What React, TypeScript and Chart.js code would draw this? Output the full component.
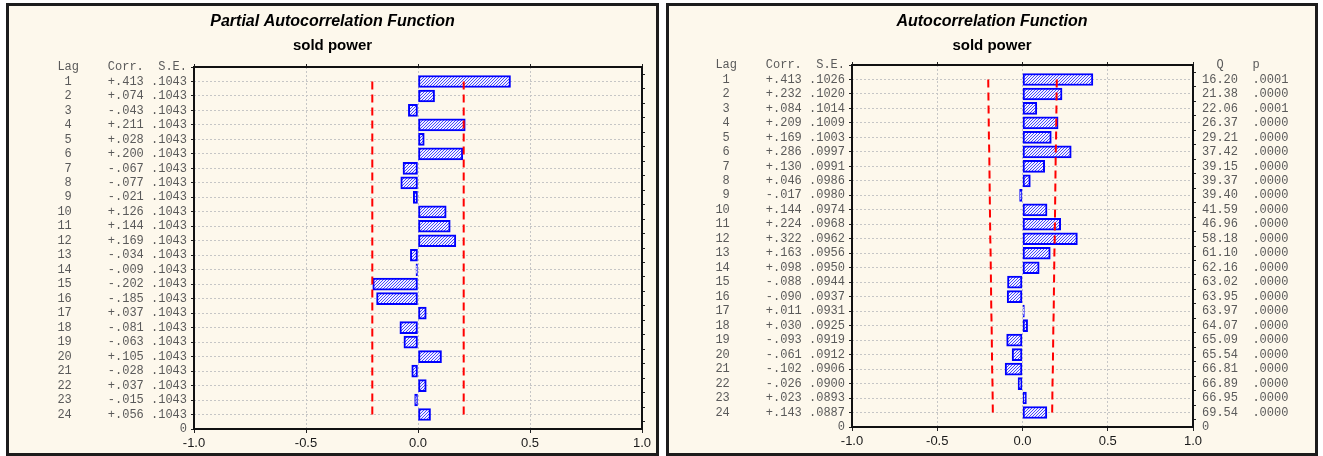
import React, { useEffect, useRef } from 'react';
import { Chart, registerables } from 'chart.js';

Chart.register(...registerables);

// ---------- data ----------
const lags = [1, 2, 3, 4, 5, 6, 7, 8, 9, 10, 11, 12, 13, 14, 15, 16, 17, 18, 19, 20, 21, 22, 23, 24];

const pacfCorr = [0.413, 0.074, -0.043, 0.211, 0.028, 0.2, -0.067, -0.077, -0.021, 0.126, 0.144, 0.169,
  -0.034, -0.009, -0.202, -0.185, 0.037, -0.081, -0.063, 0.105, -0.028, 0.037, -0.015, 0.056];
const pacfSE = [0.1043, 0.1043, 0.1043, 0.1043, 0.1043, 0.1043, 0.1043, 0.1043, 0.1043, 0.1043, 0.1043, 0.1043,
  0.1043, 0.1043, 0.1043, 0.1043, 0.1043, 0.1043, 0.1043, 0.1043, 0.1043, 0.1043, 0.1043, 0.1043];
const pacfLimit = [0.204, 0.204, 0.204, 0.204, 0.204, 0.204, 0.204, 0.204, 0.204, 0.204, 0.204, 0.204,
  0.204, 0.204, 0.204, 0.204, 0.204, 0.204, 0.204, 0.204, 0.204, 0.204, 0.204, 0.204];

const acfCorr = [0.413, 0.232, 0.084, 0.209, 0.169, 0.286, 0.13, 0.046, -0.017, 0.144, 0.224, 0.322,
  0.163, 0.098, -0.088, -0.09, 0.011, 0.03, -0.093, -0.061, -0.102, -0.026, 0.023, 0.143];
const acfSE = [0.1026, 0.102, 0.1014, 0.1009, 0.1003, 0.0997, 0.0991, 0.0986, 0.098, 0.0974, 0.0968, 0.0962,
  0.0956, 0.095, 0.0944, 0.0937, 0.0931, 0.0925, 0.0919, 0.0912, 0.0906, 0.09, 0.0893, 0.0887];
const acfLimit = [0.201, 0.2, 0.199, 0.198, 0.197, 0.195, 0.194, 0.193, 0.192, 0.191, 0.19, 0.189,
  0.187, 0.186, 0.185, 0.184, 0.183, 0.181, 0.18, 0.179, 0.178, 0.176, 0.175, 0.174];
const acfQ = [16.2, 21.38, 22.06, 26.37, 29.21, 37.42, 39.15, 39.37, 39.4, 41.59, 46.96, 58.18,
  61.1, 62.16, 63.02, 63.95, 63.97, 64.07, 65.09, 65.54, 66.81, 66.89, 66.95, 69.54];
const acfP = [0.0001, 0.0, 0.0001, 0.0, 0.0, 0.0, 0.0, 0.0, 0.0, 0.0, 0.0, 0.0,
  0.0, 0.0, 0.0, 0.0, 0.0, 0.0, 0.0, 0.0, 0.0, 0.0, 0.0, 0.0];

const xTicks = [-1, -0.5, 0, 0.5, 1];
const leftHeader = 'Lag    Corr.  S.E.';
const rightHeader = '  Q    p';
const subtitleText = 'sold power';

// ---------- helpers ----------
const fmtCorr = (c: number) => (c >= 0 ? '+' : '-') + Math.abs(c).toFixed(3).replace(/^0/, '');
const fmtDec4 = (v: number) => v.toFixed(4).replace(/^0/, '');

function makeHatch(): CanvasPattern | string {
  const n = 3;
  const c = document.createElement('canvas');
  c.width = n;
  c.height = n;
  const g = c.getContext('2d');
  if (!g) return '#9999ff';
  g.fillStyle = '#f2f2ff';
  g.fillRect(0, 0, n, n);
  g.fillStyle = '#4848ff';
  for (let i = 0; i < n; i++) g.fillRect(i, n - 1 - i, 1, 1);
  return g.createPattern(c, 'repeat') || '#9999ff';
}

const framePlugin = {
  id: 'frame',
  afterDraw(chart: any) {
    const { ctx, chartArea: a } = chart;
    ctx.save();
    ctx.strokeStyle = '#111';
    ctx.lineWidth = 2;
    ctx.strokeRect(a.left, a.top, a.right - a.left, a.bottom - a.top);
    ctx.restore();
  },
};

type PanelProps = {
  left: number;
  width: number;
  title: string;
  corr: number[];
  se: number[];
  limit: number[];
  rightLabels: string[] | null;
  leftW: number;
  rightW: number;
  topH: number;
  bottomH: number;
};

const HEIGHT = 447;
const TRANSPARENT = 'rgba(0,0,0,0)';
const GRID = '#c6c6c6';
const TEXT_GRAY = '#5a5a5a';

function Panel(p: PanelProps) {
  const ref = useRef<HTMLCanvasElement | null>(null);
  useEffect(() => {
    if (!ref.current) return;
    const hatch = makeHatch();
    const leftLabels: string[] = [leftHeader];
    lags.forEach((l, i) => {
      leftLabels.push(`${String(l).padStart(2)}     ${fmtCorr(p.corr[i])} ${fmtDec4(p.se[i])}`);
    });
    leftLabels.push(' 0');
    const rLabels = p.rightLabels;

    const chart = new Chart(ref.current, {
      type: 'bar',
      data: {
        datasets: [
          {
            type: 'line',
            data: lags.map((l, i) => ({ x: p.limit[i], y: l })),
            borderColor: '#ff0000',
            borderWidth: 2,
            borderDash: [8, 5],
            pointRadius: 0,
            tension: 0,
            order: 0,
          } as any,
          {
            type: 'line',
            data: lags.map((l, i) => ({ x: -p.limit[i], y: l })),
            borderColor: '#ff0000',
            borderWidth: 2,
            borderDash: [8, 5],
            pointRadius: 0,
            tension: 0,
            order: 0,
          } as any,
          {
            type: 'bar',
            data: lags.map((l, i) => ({ x: p.corr[i], y: l })),
            backgroundColor: hatch,
            borderColor: '#0000ff',
            borderWidth: 2,
            borderSkipped: false,
            barThickness: 12,
            order: 1,
          } as any,
        ],
      },
      options: {
        indexAxis: 'y',
        animation: false,
        responsive: false,
        maintainAspectRatio: false,
        layout: { padding: 0 },
        plugins: {
          legend: { display: false },
          tooltip: { enabled: false },
          title: {
            display: true,
            text: p.title,
            color: '#000',
            font: { family: '"Liberation Sans", Arial, sans-serif', size: 16, weight: 'bold', style: 'italic', lineHeight: 1.25 },
            padding: { top: 6, bottom: 0 },
          },
          subtitle: {
            display: true,
            text: subtitleText,
            color: '#000',
            font: { family: '"Liberation Sans", Arial, sans-serif', size: 15, weight: 'bold', lineHeight: 1.2 },
            padding: { top: 5, bottom: 0 },
          },
        },
        scales: {
          x: {
            type: 'linear',
            position: 'bottom',
            min: -1,
            max: 1,
            afterBuildTicks: (s: any) => { s.ticks = xTicks.map((v) => ({ value: v })); },
            ticks: {
              callback: (v: any) => Number(v).toFixed(1),
              color: '#1a1a1a',
              font: { family: '"Liberation Sans", Arial, sans-serif', size: 13 },
              padding: 3,
              maxRotation: 0,
              autoSkip: false,
            },
            grid: {
              color: (ctx: any) => (ctx.tick && Math.abs(ctx.tick.value) < 0.99 ? GRID : TRANSPARENT),
              tickColor: '#222',
              tickLength: 4,
              lineWidth: 1,
            },
            border: { display: false, dash: [2, 2] },
            afterFit: (s: any) => { s.height = p.bottomH; },
          },
          x2: {
            type: 'linear',
            position: 'top',
            min: -1,
            max: 1,
            afterBuildTicks: (s: any) => { s.ticks = xTicks.map((v) => ({ value: v })); },
            ticks: { display: false },
            grid: { drawOnChartArea: false, tickLength: 3, tickColor: '#222' },
            border: { display: false },
            afterFit: (s: any) => { s.height = p.topH; },
          },
          y: {
            type: 'linear',
            position: 'left',
            reverse: true,
            min: 0,
            max: 25,
            offset: false,
            ticks: {
              stepSize: 1,
              autoSkip: false,
              callback: (v: any) => leftLabels[Math.round(Number(v))] ?? '',
              color: TEXT_GRAY,
              font: { family: '"Liberation Mono", "Courier New", monospace', size: 12 },
              padding: 4,
            },
            grid: {
              offset: false,
              color: (ctx: any) => (ctx.tick && ctx.tick.value > 0 && ctx.tick.value < 25 ? GRID : TRANSPARENT),
              tickColor: '#222',
              tickLength: 3,
              lineWidth: 1,
            },
            border: { display: false, dash: [2, 2] },
            afterFit: (s: any) => { s.width = p.leftW; },
          },
          y2: {
            type: 'linear',
            position: 'right',
            reverse: true,
            min: 0,
            max: 25,
            offset: false,
            ticks: {
              stepSize: 1,
              autoSkip: false,
              display: !!rLabels,
              callback: (v: any) => (rLabels ? rLabels[Math.round(Number(v))] ?? '' : ''),
              color: TEXT_GRAY,
              font: { family: '"Liberation Mono", "Courier New", monospace', size: 12 },
              padding: 6,
            },
            grid: { drawOnChartArea: false, tickColor: '#222', tickLength: 3 },
            border: { display: false },
            afterFit: (s: any) => { s.width = p.rightW; },
          },
        },
      } as any,
      plugins: [framePlugin],
    });
    return () => chart.destroy();
  }, []);

  return (
    <div
      style={{
        position: 'absolute',
        left: p.left,
        top: 3,
        width: p.width,
        height: HEIGHT,
        border: '3px solid #1c1c1c',
        background: '#fdf8ec',
      }}
    >
      <canvas ref={ref} width={p.width} height={HEIGHT} style={{ display: 'block' }} />
    </div>
  );
}

export default function App() {
  const rightLabels: string[] = [rightHeader];
  lags.forEach((_, i) => rightLabels.push(`${acfQ[i].toFixed(2)}  ${fmtDec4(acfP[i])}`));
  rightLabels.push('0');

  return (
    <div style={{ position: 'fixed', left: 0, top: 0, width: 1323, height: 456, background: '#ffffff', overflow: 'hidden' }}>
      <Panel
        left={6}
        width={647}
        title="Partial Autocorrelation Function"
        corr={pacfCorr}
        se={pacfSE}
        limit={pacfLimit}
        rightLabels={null}
        leftW={185}
        rightW={14}
        topH={12}
        bottomH={24}
      />
      <Panel
        left={666}
        width={646}
        title="Autocorrelation Function"
        corr={acfCorr}
        se={acfSE}
        limit={acfLimit}
        rightLabels={rightLabels}
        leftW={183}
        rightW={122}
        topH={10}
        bottomH={26}
      />
    </div>
  );
}
